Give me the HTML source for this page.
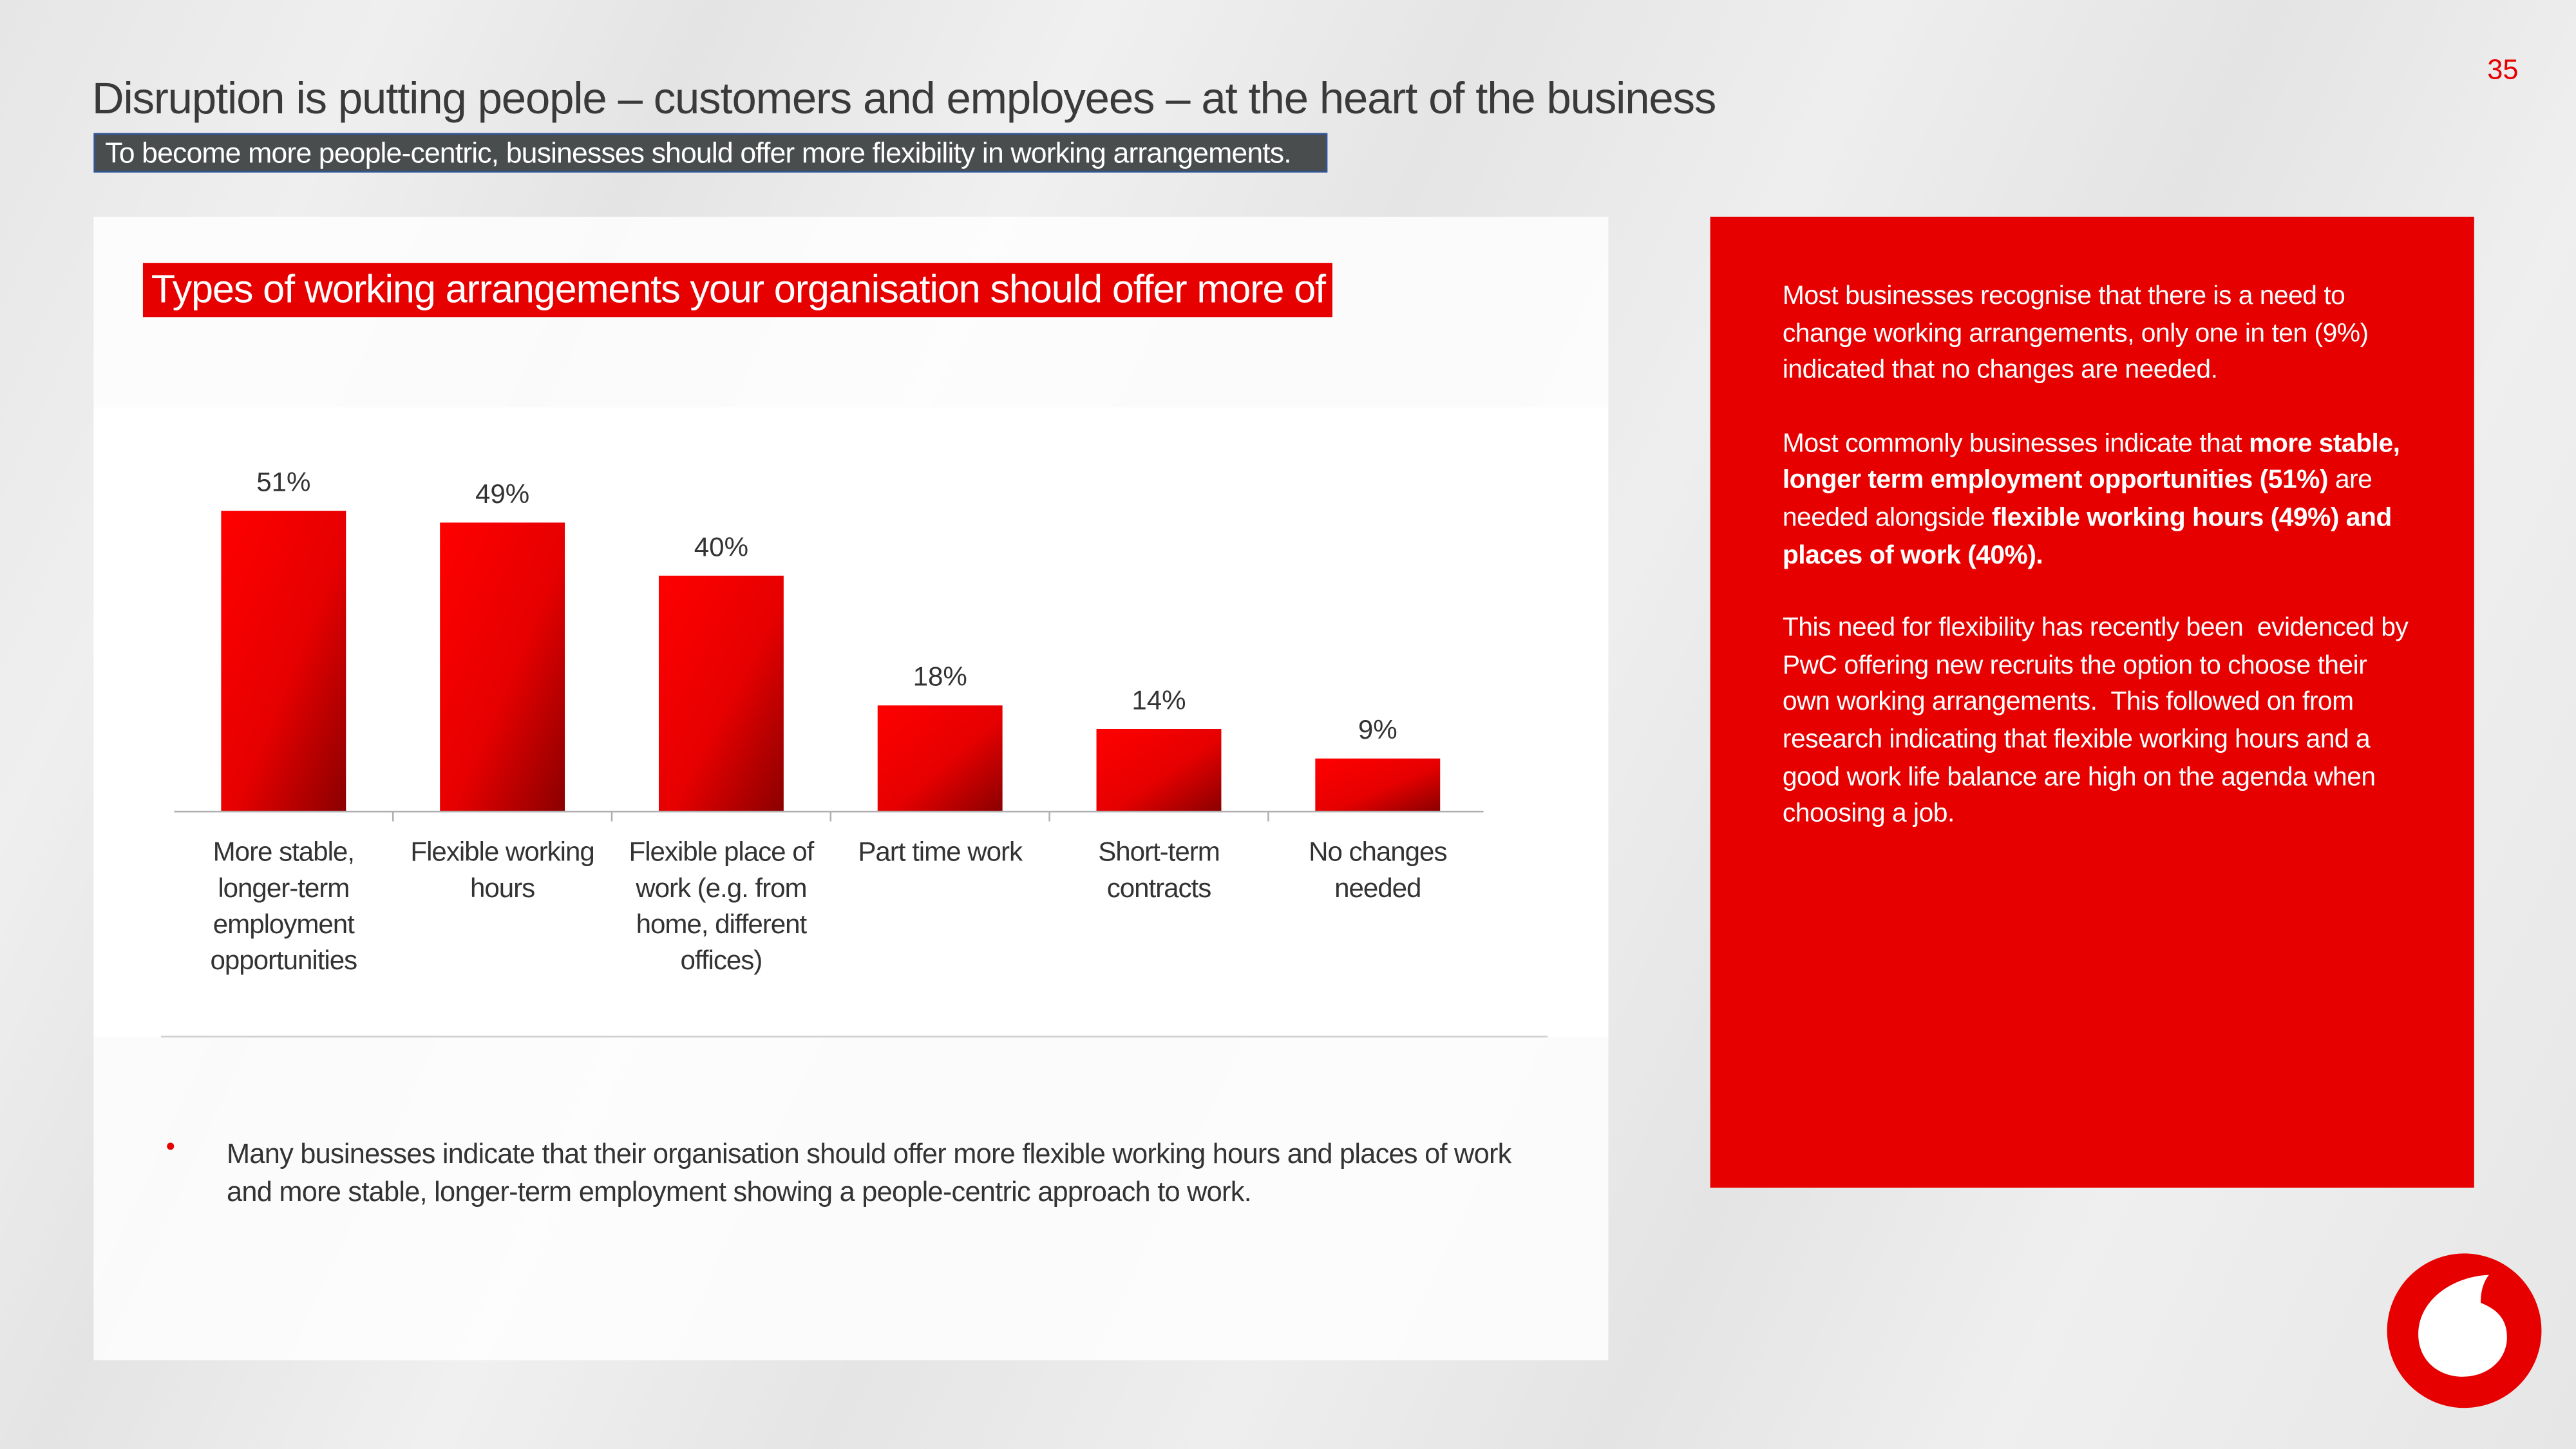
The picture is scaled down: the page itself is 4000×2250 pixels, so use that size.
<!DOCTYPE html>
<html><head><meta charset="utf-8">
<style>
html,body{margin:0;padding:0;width:4000px;height:2250px;overflow:hidden;background:#e8e8e8;}
#stage{position:absolute;left:0;top:0;width:1568px;height:882px;transform:scale(2.55102);transform-origin:0 0;
 font-family:"Liberation Sans",sans-serif;
 background:linear-gradient(115deg,#e6e6e6 0%,#efefef 12%,#e4e4e4 22%,#f0f0f0 34%,#e5e5e5 46%,#eeeeee 58%,#e4e4e4 70%,#efefef 82%,#e6e6e6 100%);}
.abs{position:absolute;}
</style></head>
<body>
<div id="stage">
  <div class="abs" style="left:56px;top:45px;font-size:27px;color:#3a3a3a;letter-spacing:-0.45px;white-space:nowrap;">Disruption is putting people – customers and employees – at the heart of the business</div>
  <div class="abs" style="left:1514px;top:33px;font-size:17px;color:#e60000;">35</div>
  <div class="abs" style="left:57px;top:81px;width:751px;height:24px;background:#4a4d4e;border:1px solid #2f5597;color:#fff;font-size:17.5px;line-height:22px;padding-left:6px;box-sizing:border-box;white-space:nowrap;letter-spacing:-0.35px;overflow:hidden;">To become more people-centric, businesses should offer more flexibility in working arrangements.</div>

  <div class="abs" style="left:57px;top:132px;width:922px;height:696px;background:rgba(255,255,255,0.82);"></div>
  <div class="abs" style="left:57px;top:248px;width:922px;height:383px;background:rgba(255,255,255,0.9);"></div>
  <div class="abs" style="left:87px;top:160px;width:724px;height:33px;background:#e60000;color:#fff;font-size:24px;line-height:33px;padding-left:5px;box-sizing:border-box;white-space:nowrap;letter-spacing:-0.45px;overflow:hidden;">Types of working arrangements your organisation should offer more of</div>

  <svg class="abs" id="chart" style="left:0;top:0" width="1568" height="882">
    <defs>
      <linearGradient id="barGrad" x1="0" y1="0" x2="1" y2="1">
        <stop offset="0" stop-color="#ff0000"/>
        <stop offset="0.55" stop-color="#e60000"/>
        <stop offset="1" stop-color="#8a0000"/>
      </linearGradient>
    </defs>
    <g id="bars"></g>
    <line x1="106" y1="494" x2="903" y2="494" stroke="#b0b0b0" stroke-width="1"/>
    <line x1="98" y1="631" x2="942" y2="631" stroke="#d0d0d0" stroke-width="1"/>
  </svg>

  <div class="abs" style="left:101px;top:690px;color:#e60000;font-size:16px;">•</div>
  <div class="abs" style="left:138px;top:691px;width:790px;font-size:17px;line-height:23px;color:#333;letter-spacing:-0.3px;">Many businesses indicate that their organisation should offer more flexible working hours and places of work and more stable, longer-term employment showing a people-centric approach to work.</div>

  <div class="abs" style="left:1041px;top:132px;width:465px;height:591px;background:#e60000;"></div>
  <div class="abs" style="left:1085px;top:170px;width:388px;font-size:16px;line-height:22.7px;color:#fff;letter-spacing:-0.2px;">
    <p style="margin:0 0 21.5px 0;">Most businesses recognise that there is a need to change working arrangements, only one in ten (9%) indicated that no changes are needed.</p>
    <p style="margin:0 0 21.5px 0;">Most commonly businesses indicate that <b>more stable, longer term employment opportunities (51%)</b> are needed alongside <b>flexible working hours (49%) and places of work (40%).</b></p>
    <p style="margin:0;">This need for flexibility has recently been&nbsp; evidenced by PwC offering new recruits the option to choose their own working arrangements.&nbsp; This followed on from research indicating that flexible working hours and a good work life balance are high on the agenda when choosing a job.</p>
  </div>

  <svg class="abs" style="left:1452px;top:762px" width="96" height="96" viewBox="0 0 96 96">
    <circle cx="48" cy="48" r="47" fill="#e60000"/>
    <path d="M63 14 C40 15 20 30 20 50 C20 66 32 76 47 76 C62 76 74 66 74 52 C74 41 68 35 58 31 C58 23 60 18 63 14 Z" fill="#fff"/>
  </svg>
</div>
<script>
const categories = [
  ["More stable,","longer-term","employment","opportunities"],
  ["Flexible working","hours"],
  ["Flexible place of","work (e.g. from","home, different","offices)"],
  ["Part time work"],
  ["Short-term","contracts"],
  ["No changes","needed"]
];
const values = [51, 49, 40, 18, 14, 9];
const valueLabels = ["51%", "49%", "40%", "18%", "14%", "9%"];

const NS = "http://www.w3.org/2000/svg";
const baseY = 494, pxPerPct = 3.59, x0 = 106, band = 133.2, barW = 76;
function xCenter(i){ return x0 + band*(i+0.5); }
function yScale(v){ return baseY - v*pxPerPct; }
const g = document.getElementById('bars');
values.forEach((v,i)=>{
  const r = document.createElementNS(NS,'rect');
  r.setAttribute('x', xCenter(i)-barW/2);
  r.setAttribute('y', yScale(v));
  r.setAttribute('width', barW);
  r.setAttribute('height', baseY - yScale(v));
  r.setAttribute('fill','url(#barGrad)');
  
  
  g.appendChild(r);
  const t = document.createElementNS(NS,'text');
  t.setAttribute('x', xCenter(i));
  t.setAttribute('y', yScale(v)-12);
  t.setAttribute('text-anchor','middle');
  t.setAttribute('font-size','16.5');
  t.setAttribute('fill','#333');
  t.setAttribute('font-family','Liberation Sans, sans-serif');
  t.textContent = valueLabels[i];
  
  
  g.appendChild(t);
  categories[i].forEach((line,j)=>{
    const c = document.createElementNS(NS,'text');
    c.setAttribute('x', xCenter(i));
    c.setAttribute('y', 524 + j*22);
    c.setAttribute('text-anchor','middle');
    c.setAttribute('font-size','16.5');
    c.setAttribute('letter-spacing','-0.4');
    c.setAttribute('fill','#333');
    c.setAttribute('font-family','Liberation Sans, sans-serif');
    c.textContent = line;
    
    
    g.appendChild(c);
  });
  if(i>0){
    const tk = document.createElementNS(NS,'line');
    tk.setAttribute('x1', x0+band*i); tk.setAttribute('x2', x0+band*i);
    tk.setAttribute('y1', baseY); tk.setAttribute('y2', baseY+6);
    tk.setAttribute('stroke','#b0b0b0');
    
    
    g.appendChild(tk);
  }
});
</script>
</body></html>
